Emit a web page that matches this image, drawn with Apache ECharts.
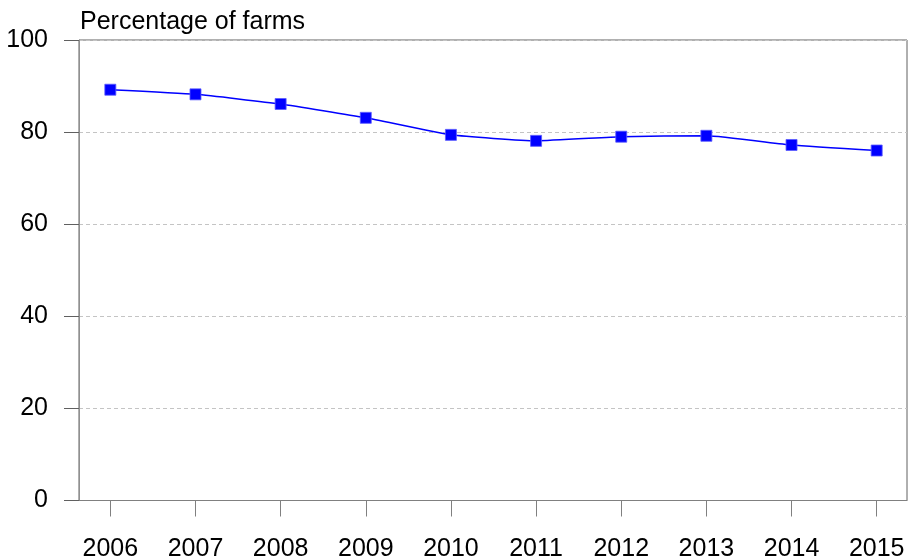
<!DOCTYPE html>
<html>
<head>
<meta charset="utf-8">
<script src="https://cdn.jsdelivr.net/npm/echarts@6/dist/echarts.min.js"></script>
<style>html,body{margin:0;padding:0;background:#fff}#c{width:908px;height:557px}</style>
</head>
<body>
<div id="c"></div>
<script>
const years = [2006, 2007, 2008, 2009, 2010, 2011, 2012, 2013, 2014, 2015];
const percentages = [89.2, 88.2, 86.1, 83.1, 79.4, 78.1, 79.0, 79.2, 77.2, 76.0];
const yTicks = [0, 20, 40, 60, 80, 100];
const titleText = 'Percentage of farms';

const FONT = '"Liberation Sans", Arial, sans-serif';
const chart = echarts.init(document.getElementById('c'), null, {renderer: 'canvas'});
chart.setOption({
  animation: false,
  backgroundColor: '#ffffff',
  title: {
    text: titleText,
    left: 80, top: 10, padding: 0,
    textStyle: {fontFamily: FONT, fontSize: 25, fontWeight: 'normal', color: '#000'}
  },
  grid: {
    left: 79, right: 1, top: 40, bottom: 56.5,
    outerBoundsMode: 'none',
    containLabel: false,
    show: true, borderColor: '#606060', borderWidth: 1, backgroundColor: 'transparent'
  },
  xAxis: {
    type: 'value',
    min: 2005.632, max: 2015.356,
    splitLine: {show: false},
    axisLine: {show: true, lineStyle: {color: '#808080', width: 1}},
    axisTick: {show: true, customValues: years, length: 16, lineStyle: {color: '#808080'}},
    axisLabel: {
      customValues: years, margin: 36,
      formatter: v => String(v),
      fontFamily: FONT, fontSize: 25, color: '#000'
    }
  },
  yAxis: {
    type: 'value',
    min: 0, max: 100, interval: 20,
    axisLine: {show: true, lineStyle: {color: '#909090', width: 1}},
    axisTick: {show: true, length: 15, lineStyle: {color: '#606060'}},
    splitLine: {show: true, lineStyle: {color: '#c4c4c4', type: [4, 3], width: 1}},
    axisLabel: {
      margin: 31,
      customValues: yTicks,
      fontFamily: FONT, fontSize: 25, color: '#000'
    }
  },
  series: [{
    type: 'line',
    data: years.map((y, i) => [y, percentages[i]]),
    smooth: 0.15,
    symbol: 'rect',
    symbolSize: 11,
    showAllSymbol: true,
    lineStyle: {color: '#0000ff', width: 1.5},
    itemStyle: {color: '#0000ff', borderColor: '#5a5aff', borderWidth: 0.8}
  }]
});
</script>
</body>
</html>
